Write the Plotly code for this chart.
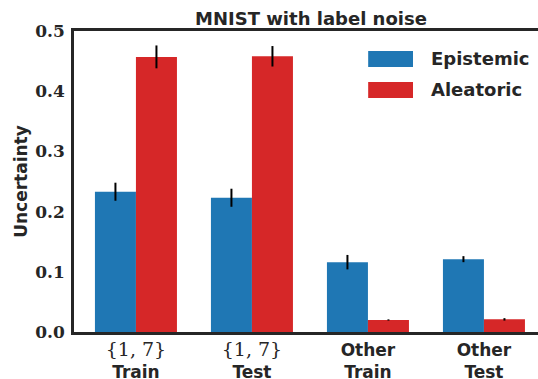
import plotly.graph_objects as go

categories = ["{1, 7}|Train", "{1, 7}|Test", "Other|Train", "Other|Test"]
tick_top = ["{1, 7}", "{1, 7}", "Other", "Other"]
tick_bottom = ["Train", "Test", "Train", "Test"]
epistemic = [0.233, 0.223, 0.116, 0.121]
epistemic_err = [0.015, 0.015, 0.012, 0.005]
aleatoric = [0.457, 0.458, 0.020, 0.021]
aleatoric_err = [0.019, 0.017, 0.001, 0.002]
series_names = ["Epistemic", "Aleatoric"]
yticks = [0.0, 0.1, 0.2, 0.3, 0.4, 0.5]

BLUE = "#1f77b4"
RED = "#d62728"
TXT = "#262626"
SANS = "DejaVu Sans"

ticktext = []
for t, b in zip(tick_top, tick_bottom):
    if t.startswith("{"):
        top = f'<span style="font-family:DejaVu Serif;font-weight:normal;font-size:19px">{t}</span>'
    else:
        top = t
    ticktext.append(f"{top}<br>{b}")

fig = go.Figure()
fig.add_trace(go.Bar(x=categories, y=epistemic, name=series_names[0], marker_color=BLUE,
                     marker_line_width=0,
                     error_y=dict(type="data", array=epistemic_err, color="black", thickness=2, width=0)))
fig.add_trace(go.Bar(x=categories, y=aleatoric, name=series_names[1], marker_color=RED,
                     marker_line_width=0,
                     error_y=dict(type="data", array=aleatoric_err, color="black", thickness=2, width=0)))

# legend drawn as patches + text
legend_rows = [(0.9336, 0.8804, BLUE), (0.8306, 0.7774, RED)]
for (y1, y0, col), name in zip(legend_rows, series_names):
    fig.add_shape(type="rect", xref="paper", yref="paper", x0=0.634, x1=0.7306, y0=y0, y1=y1,
                  fillcolor=col, line_width=0)
    fig.add_annotation(xref="paper", yref="paper", x=0.766, y=(y0 + y1) / 2, text=name,
                       showarrow=False, xanchor="left", yanchor="middle",
                       font=dict(family=SANS, size=18, color=TXT, weight="bold"))

fig.update_layout(
    width=538, height=379,
    margin=dict(l=74, r=0, t=31, b=47),
    paper_bgcolor="white", plot_bgcolor="white",
    barmode="group", bargap=0.293, bargroupgap=0,
    showlegend=False,
    title=dict(text="MNIST with label noise", xref="container", x=0.578, xanchor="center",
               yref="container", y=0.951, yanchor="middle",
               font=dict(family=SANS, size=18, color=TXT, weight="bold")),
    xaxis=dict(type="category", range=[-0.534, 3.466], tickvals=categories, ticktext=ticktext,
               automargin=False,
               showline=True, mirror=True, linecolor=TXT, linewidth=2.5, showgrid=False,
               ticks="outside", ticklen=1, tickcolor="rgba(0,0,0,0)",
               tickfont=dict(family=SANS, size=17, color=TXT, weight="bold")),
    yaxis=dict(range=[0, 0.5], tickvals=yticks, tickformat=".1f", automargin=False,
               showline=True, mirror=False, linecolor=TXT, linewidth=2.5, showgrid=False,
               zeroline=False, ticks="outside", ticklen=3, tickcolor="rgba(0,0,0,0)",
               tickfont=dict(family="DejaVu Serif", size=17, color=TXT, weight="bold"),
               title=dict(text="Uncertainty", standoff=4,
                          font=dict(family=SANS, size=17, color=TXT, weight="bold"))),
)

fig.write_html("out.html", config={"displayModeBar": False},
               post_script="document.body.style.margin='0';document.body.style.padding='0';document.body.style.overflow='hidden';")
